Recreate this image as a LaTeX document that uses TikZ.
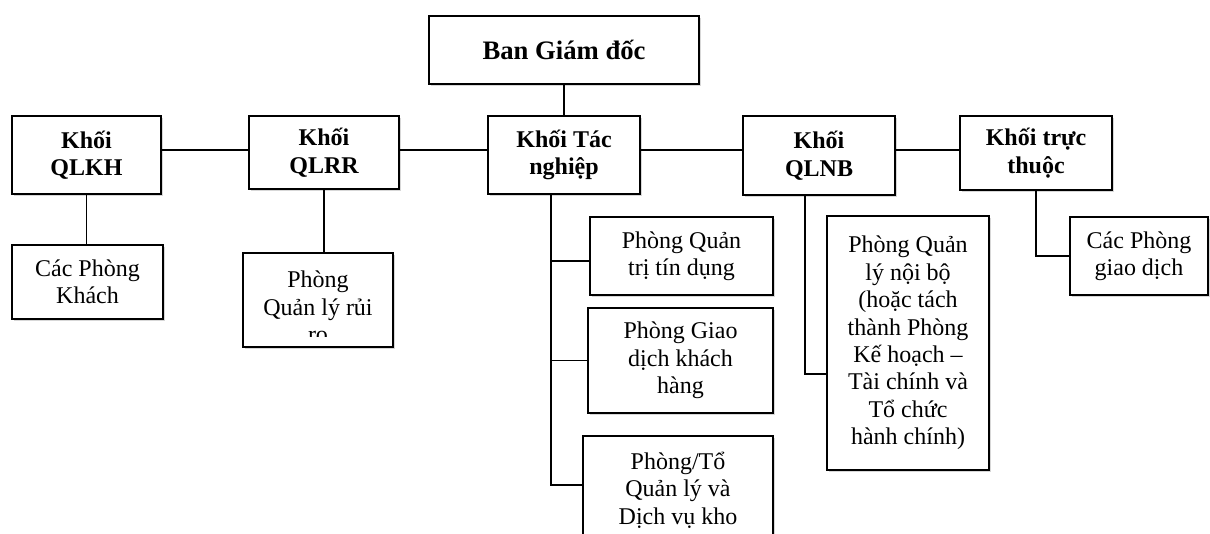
\documentclass[tikz,border=0pt]{standalone}
\usepackage{fontspec}
\setmainfont{Liberation Serif}
\usetikzlibrary{positioning,calc,shadows}
\tikzset{
  every picture/.style={line width=1pt, x=0.75pt, y=0.75pt},
  stxt/.style={font=\fontsize{18}{20.6}\selectfont, align=center},
  sbox/.style={stxt, draw, line width=1.4pt, fill=white, inner sep=1pt,
               drop shadow={shadow xshift=1.2pt, shadow yshift=-1.8pt, fill=black!45, opacity=0.35}},
  sblk/.style={sbox, font=\fontsize{18}{20.6}\selectfont\bfseries},
  sboss/.style={sbox, font=\fontsize{20}{24}\selectfont\bfseries},
  slink/.style={line width=1pt},
}

\begin{document}
\begin{tikzpicture}
\useasboundingbox (0,0) rectangle (1210,-534);
\clip (0,0) rectangle (1210,-534);
% top row
\node[sboss, minimum width=202.5pt, minimum height=51pt] (bgd) at (564,-50) {Ban Giám đốc};
\node[sblk, minimum width=111.75pt, minimum height=58.5pt] (qlkh) at (86.5,-155) {Khối\\QLKH};
\node[sblk, minimum width=112.5pt, minimum height=54.75pt] (qlrr) at (324,-152.5) {Khối\\QLRR};
\node[sblk, minimum width=114pt, minimum height=58.5pt] (tn) at (564,-155) {Khối Tác\\nghiệp};
\node[sblk, minimum width=114pt, minimum height=59.25pt] (qlnb) at (819,-155.5) {Khối\\QLNB};
\node[sblk, minimum width=114pt, minimum height=55.5pt] (tt) at (1036,-153) {Khối trực\\thuộc};
% phong ban
\node[sbox, minimum width=113.25pt, minimum height=55.5pt] (cpk) at (87.5,-282) {Các Phòng\\Khách};
\node[sbox, minimum width=112.5pt, minimum height=70.5pt] (qlrrc) at (318,-300) {};
\node[sbox, minimum width=137.25pt, minimum height=58.5pt] (qttd) at (681.5,-256) {Phòng Quản\\trị tín dụng};
\node[sbox, minimum width=138.75pt, minimum height=78.75pt] (gdkh) at (680.5,-360.5) {Phòng Giao\\dịch khách\\hàng};
\node[sbox, minimum width=142.5pt, minimum height=81pt] (kho) at (678,-490) {Phòng/Tổ\\Quản lý và\\Dịch vụ kho};
\node[sbox, minimum width=121.5pt, minimum height=190.5pt] (qlnbc) at (908,-343) {Phòng Quản\\lý nội bộ\\(hoặc tách\\thành Phòng\\Kế hoạch –\\Tài chính và\\Tổ chức\\hành chính)};
\node[sbox, minimum width=103.5pt, minimum height=58.5pt] (cpgd) at (1139,-256) {Các Phòng\\giao dịch};
\begin{scope}
\clip ($(qlrrc.south west)+(0,11)$) rectangle (qlrrc.north east);
\node[stxt, inner sep=0pt] (qlrrt) at (318,-307) {Phòng\\Quản lý rủi\\ro};
\end{scope}
% connectors
\coordinate (hl) at (0,-150);
\draw[slink] (bgd) -- (tn);
\draw[slink] (qlkh.east |- hl) -- (qlrr.west |- hl); \draw[slink] (qlrr.east |- hl) -- (tn.west |- hl);
\draw[slink] (tn.east |- hl) -- (qlnb.west |- hl); \draw[slink] (qlnb.east |- hl) -- (tt.west |- hl);
\draw[slink] (qlkh) -- (qlkh.south |- cpk.north);
\draw[slink] (qlrr) -- (qlrr.south |- qlrrc.north);
\coordinate (tnv) at ($(tn.south west)+(64,0)$);
\coordinate (qttdin) at ([yshift=-3.75pt]qttd.west); \coordinate (khoin) at ([yshift=3.75pt]kho.west);
\draw[slink] (tnv) |- (khoin);
\draw[slink] (tnv |- qttdin) -- (qttdin); \draw[slink] (tnv |- gdkh.west) -- (gdkh.west);
\coordinate (nbv) at ($(qlnb.south)+(-14,0)$); \coordinate (nbin) at ([yshift=-23.25pt]qlnbc.west);
\draw[slink] (nbv) |- (nbin);
\draw[slink] (tt.south) |- (cpgd.west);
\end{tikzpicture}
\end{document}
